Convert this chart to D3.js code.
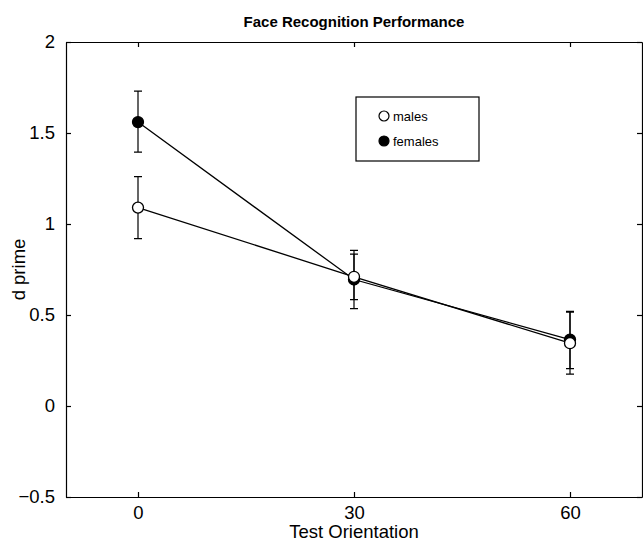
<!DOCTYPE html>
<html>
<head>
<meta charset="utf-8">
<script src="https://cdn.jsdelivr.net/npm/d3@7"></script>
<style>
  body { margin: 0; background: #fff; }
  text { font-family: "Liberation Sans", Arial, Helvetica, sans-serif; fill: #000; }
</style>
</head>
<body>
<svg id="chart" width="643" height="545"></svg>
<script>
// data
var orientations = [0, 30, 60];
var malesMean = [1.09, 0.71, 0.345];
var malesLow = [0.92, 0.585, 0.175];
var malesHigh = [1.26, 0.835, 0.515];
var femalesMean = [1.56, 0.695, 0.365];
var femalesLow = [1.395, 0.535, 0.205];
var femalesHigh = [1.73, 0.855, 0.52];
var xTicks = [0, 30, 60];
var yTicks = [-0.5, 0, 0.5, 1, 1.5, 2];

(function() {
    var svg = d3.select("#chart");

    // plot box
    var pLeft = 66, pRight = 642, pTop = 42, pBottom = 497;

    var x = d3.scaleLinear().domain([-10, 70]).range([pLeft, pRight]);
    var y = d3.scaleLinear().domain([-0.5, 2]).range([pBottom, pTop]);

    // frame with inward ticks on all four sides
    svg.append("g")
        .attr("transform", "translate(0," + pBottom + ")")
        .call(d3.axisBottom(x).tickValues(xTicks).tickSizeInner(-5).tickSizeOuter(0).tickPadding(9))
        .call(g => g.selectAll("text").attr("font-size", 18.5));
    svg.append("g")
        .attr("transform", "translate(0," + pTop + ")")
        .call(d3.axisTop(x).tickValues(xTicks).tickSizeInner(-5).tickSizeOuter(0).tickFormat(""));
    svg.append("g")
        .attr("transform", "translate(" + pLeft + ",0)")
        .call(d3.axisLeft(y).tickValues(yTicks).tickSizeInner(-5).tickSizeOuter(0).tickPadding(11)
            .tickFormat(d => d3.format("")(d).replace("-", "\u2212")))
        .call(g => g.selectAll("text").attr("font-size", 18.5));
    svg.append("g")
        .attr("transform", "translate(" + pRight + ",0)")
        .call(d3.axisRight(y).tickValues(yTicks).tickSizeInner(-5).tickSizeOuter(0).tickFormat(""));

    svg.selectAll(".domain").attr("stroke", "#000").attr("stroke-width", 1.2);
    svg.selectAll(".tick line").attr("stroke", "#000").attr("stroke-width", 1.2);
    svg.selectAll(".tick text").attr("fill", "#000").attr("font-family", "Liberation Sans, Arial, sans-serif");

    // series, females first so males sit on top
    var series = [
        { name: "females", mean: femalesMean, low: femalesLow, high: femalesHigh, fill: "#000" },
        { name: "males", mean: malesMean, low: malesLow, high: malesHigh, fill: "#fff" }
    ];

    var line = d3.line()
        .x(d => x(d[0]))
        .y(d => y(d[1]));

    series.forEach(function(s) {
        var pts = orientations.map((o, i) => [o, s.mean[i], s.low[i], s.high[i]]);
        var g = svg.append("g").attr("class", "series-" + s.name);

        // error bars
        g.selectAll(".err")
            .data(pts)
            .enter().append("path")
            .attr("class", "err")
            .attr("fill", "none")
            .attr("stroke", "#000")
            .attr("stroke-width", 1.2)
            .attr("d", d => "M" + (x(d[0]) - 4) + "," + y(d[3]) + "H" + (x(d[0]) + 4) +
                "M" + x(d[0]) + "," + y(d[3]) + "V" + y(d[2]) +
                "M" + (x(d[0]) - 4) + "," + y(d[2]) + "H" + (x(d[0]) + 4));

        g.append("path")
            .datum(pts)
            .attr("fill", "none")
            .attr("stroke", "#000")
            .attr("stroke-width", 1.3)
            .attr("d", line);

        g.selectAll(".dot")
            .data(pts)
            .enter().append("circle")
            .attr("class", "dot")
            .attr("cx", d => x(d[0]))
            .attr("cy", d => y(d[1]))
            .attr("r", 5.5)
            .attr("fill", s.fill)
            .attr("stroke", "#000")
            .attr("stroke-width", 1.3);
    });

    // legend
    var legend = svg.append("g");
    legend.append("rect")
        .attr("x", 356).attr("y", 97)
        .attr("width", 123).attr("height", 64)
        .attr("fill", "#fff").attr("stroke", "#000").attr("stroke-width", 1.2);
    var legendItems = [
        { name: "males", fill: "#fff" },
        { name: "females", fill: "#000" }
    ];
    legendItems.forEach(function(item, i) {
        var yy = 116 + i * 25;
        legend.append("circle")
            .attr("cx", 384).attr("cy", yy).attr("r", 5)
            .attr("fill", item.fill).attr("stroke", "#000").attr("stroke-width", 1.2);
        legend.append("text")
            .attr("x", 393).attr("y", yy + 4.5)
            .attr("font-size", 13)
            .text(item.name);
    });

    // titles
    svg.append("text")
        .attr("x", (pLeft + pRight) / 2).attr("y", 27)
        .attr("text-anchor", "middle")
        .attr("font-size", 15)
        .attr("font-weight", "bold")
        .text("Face Recognition Performance");

    svg.append("text")
        .attr("x", (pLeft + pRight) / 2).attr("y", 538)
        .attr("text-anchor", "middle")
        .attr("font-size", 18.5)
        .text("Test Orientation");

    svg.append("text")
        .attr("transform", "translate(25," + (pTop + pBottom) / 2 + ") rotate(-90)")
        .attr("text-anchor", "middle")
        .attr("font-size", 18.5)
        .text("d prime");
})();
</script>
</body>
</html>
